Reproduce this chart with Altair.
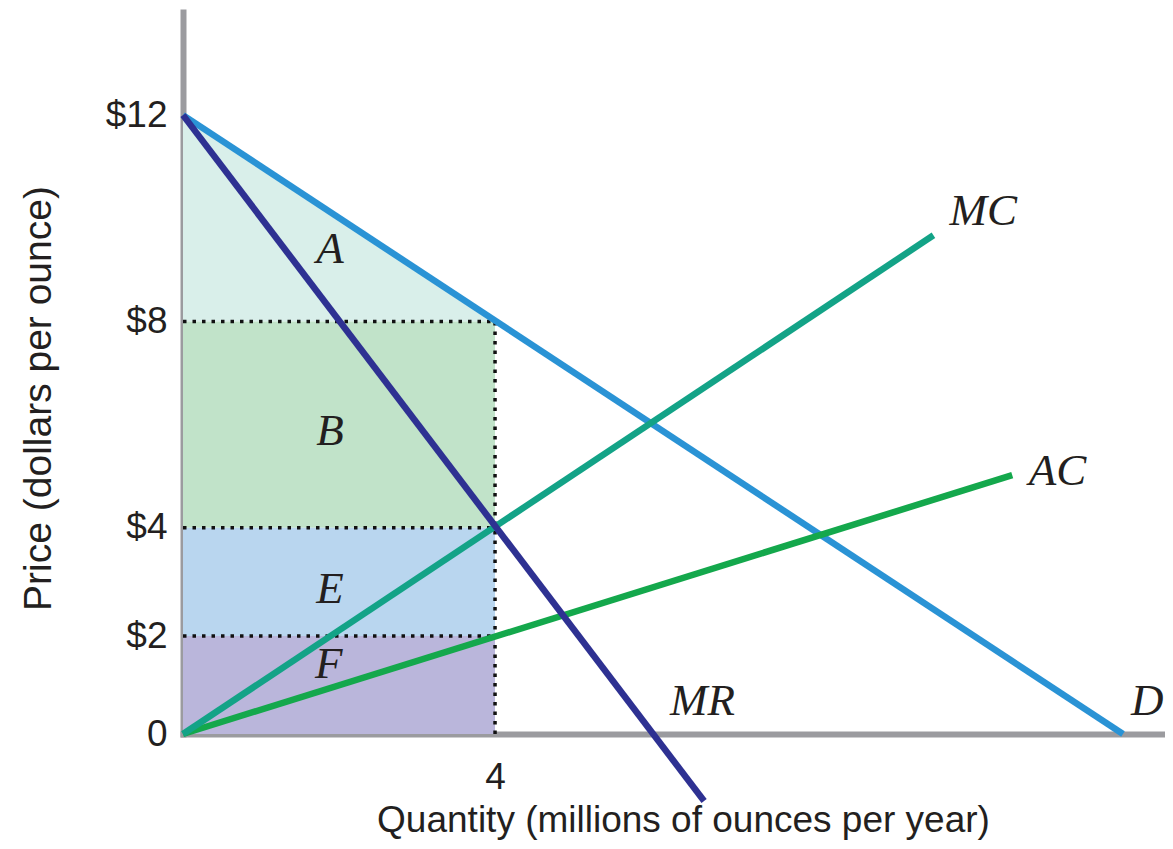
import altair as alt
import pandas as pd

# ---- curves (quantity, price) ----
curve_names = ["D", "AC", "MC", "MR"]
d_q, d_p = [0, 12.05], [12, 0]
ac_q, ac_p = [0, 10.63], [0, 5.02]
mc_q, mc_p = [0, 9.62], [0, 9.67]
mr_q, mr_p = [0, 6.68], [12, -1.3]
curve_colors = ["#2a93d5", "#14a84c", "#13a387", "#2e3192"]

# ---- shaded regions ----
tri_q = [0, 4]
tri_top = [12, 8]
tri_bot = [8, 8]
rect_names = ["B", "E", "F"]
rect_lo = [4, 1.9, 0]
rect_hi = [8, 4, 1.9]
rect_colors = ["#c1e3c9", "#b9d6ef", "#bab6db"]
tri_color = "#d9efea"

# ---- dotted guide lines ----
guide_q = [0, 0, 0, 4]
guide_q2 = [4, 4, 4, 4]
guide_p = [8, 4, 1.9, 0]
guide_p2 = [8, 4, 1.9, 8]

# ---- labels ----
label_text = ["A", "B", "E", "F", "MC", "AC", "MR", "D"]
label_q = [1.885, 1.885, 1.885, 1.87, 10.26, 11.21, 6.66, 12.36]
label_p = [9.14, 5.61, 2.54, 1.09, 9.87, 4.83, 0.37, 0.37]

# ---- axes ----
y_tick_values = [0, 1.9, 4, 8, 12]
y_tick_labels = ["0", "$2", "$4", "$8", "$12"]
x_tick_values = [4]
x_title = "Quantity (millions of ounces per year)"
y_title = "Price (dollars per ounce)"

# ---- build tables ----
curves = pd.concat([
    pd.DataFrame({"name": n, "q": q, "p": p, "order": [0, 1]})
    for n, q, p in zip(curve_names, [d_q, ac_q, mc_q, mr_q], [d_p, ac_p, mc_p, mr_p])
])
tri = pd.DataFrame({"q": tri_q, "p": tri_top, "p2": tri_bot})
rects = pd.DataFrame({"name": rect_names, "q": 0, "q2": 4, "p": rect_lo, "p2": rect_hi})
guides = pd.DataFrame({"q": guide_q, "q2": guide_q2, "p": guide_p, "p2": guide_p2})
labels = pd.DataFrame({"t": label_text, "q": label_q, "p": label_p})

TEXT = "#231f20"
AXIS = "#9b9b9f"
SANS = "Liberation Sans"

label_expr = " : ".join(
    f"datum.value == {v} ? '{l}'" for v, l in zip(y_tick_values, y_tick_labels)
) + " : ''"

xs = alt.Scale(domain=[0, 12.55], nice=False, zero=False)
ys = alt.Scale(domain=[0, 14.0], nice=False, zero=False)

x_axis = alt.Axis(
    values=x_tick_values, title=x_title, grid=False, ticks=False, tickSize=0,
    labelPadding=25, labelFontSize=37, labelFont=SANS, labelColor=TEXT,
    labelOverlap=False, labelFlush=False,
    domainColor=AXIS, domainWidth=6, domainCap="square",
    titleFont=SANS, titleFontSize=37, titleFontWeight="normal", titleColor=TEXT,
    titleX=500, titleY=97, titleBaseline="alphabetic", titleAlign="center",
)
y_axis = alt.Axis(
    values=y_tick_values, labelExpr=label_expr, title=y_title, grid=False,
    ticks=False, tickSize=0, labelPadding=16, labelFontSize=37, labelFont=SANS,
    labelColor=TEXT, labelOverlap=False, labelFlush=False,
    domainColor=AXIS, domainWidth=6, domainCap="square",
    titleFont=SANS, titleFontSize=39, titleFontWeight="normal", titleColor=TEXT,
    titleX=-133, titleY=386, titleBaseline="alphabetic", titleAlign="center",
    titleAngle=270,
)

X = lambda: alt.X("q:Q", scale=xs, axis=x_axis)
Y = lambda: alt.Y("p:Q", scale=ys, axis=y_axis)

tri_layer = alt.Chart(tri).mark_area(color=tri_color, opacity=1).encode(
    x=X(), y=Y(), y2="p2:Q"
)
rect_layer = alt.Chart(rects).mark_rect(opacity=1).encode(
    x=X(), x2="q2:Q", y=Y(), y2="p2:Q",
    color=alt.Color("name:N", scale=alt.Scale(domain=rect_names, range=rect_colors), legend=None),
)
guide_layer = alt.Chart(guides).mark_rule(
    color="#111111", strokeWidth=3.5, strokeDash=[3.5, 6]
).encode(x=X(), x2="q2:Q", y=Y(), y2="p2:Q")
curve_layer = alt.Chart(curves).mark_line(strokeWidth=6.5, clip=False).encode(
    x=X(), y=Y(), order="order:Q",
    detail="name:N",
    color=alt.Color("name:N", scale=alt.Scale(domain=curve_names, range=curve_colors), legend=None),
)
text_layer = alt.Chart(labels).mark_text(
    font="Liberation Serif", fontStyle="italic", fontSize=45, color=TEXT,
    align="center", baseline="alphabetic",
).encode(x=X(), y=Y(), text="t:N")

chart = alt.layer(
    tri_layer, rect_layer, guide_layer, curve_layer, text_layer
).resolve_scale(color="independent").properties(
    width=979, height=722,
    padding={"left": 175, "top": 4, "right": 3, "bottom": 107},
    autosize=alt.AutoSizeParams(type="none"),
    background="white",
).configure_view(stroke=None)

chart.save("out.html", embed_options={"renderer": "svg", "actions": False})
